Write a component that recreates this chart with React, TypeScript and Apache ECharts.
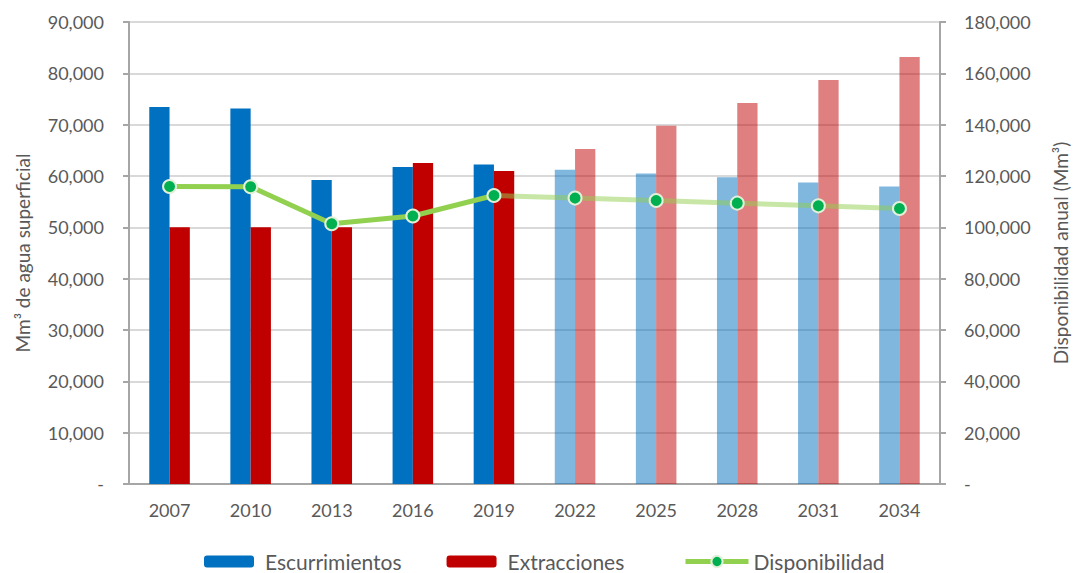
import React, { useEffect, useRef } from "react";
import * as echarts from "echarts";

const years = ["2007", "2010", "2013", "2016", "2019", "2022", "2025", "2028", "2031", "2034"];
const escurrimientos = [73430, 73160, 59200, 61730, 62240, 61210, 60490, 59780, 58740, 57960];
const extracciones = [50000, 50000, 50000, 62510, 60950, 65240, 69790, 74210, 78690, 83180];
const disponibilidad = [115900, 115800, 101400, 104400, 112400, 111400, 110450, 109430, 108380, 107330];
const firstProjectedYear = "2022";
const leftTicks = { min: 0, max: 90000, interval: 10000 };
const rightTicks = { min: 0, max: 180000, interval: 20000 };

const FONT = "Lato";
const TEXT = "#595959";

export default function App() {
  const ref = useRef<HTMLDivElement>(null);
  useEffect(() => {
    if (!ref.current) return;
    const chart = echarts.init(ref.current, null, { renderer: "svg" });
    const projIdx = years.indexOf(firstProjectedYear);
    const fmt = (v: number) => (v === 0 ? "-" : v.toLocaleString("en-US"));
    const barData = (arr: number[]) =>
      arr.map((v, i) => (i >= projIdx ? { value: v, itemStyle: { opacity: 0.5 } } : v));
    const histLine = disponibilidad.map((v, i) => (i < projIdx ? v : "-"));
    const projLine = disponibilidad.map((v, i) =>
      i < projIdx - 1 ? "-" : i === projIdx - 1 ? { value: v, symbol: "none" } : v
    );
    const lineCommon = {
      type: "line",
      name: "Disponibilidad",
      yAxisIndex: 1,
      symbol: "circle",
      symbolSize: 13,
      z: 5,
      itemStyle: { color: "#00B050", borderColor: "#E2F0D9", borderWidth: 2 },
    };
    const legendText = { fontFamily: FONT, fontSize: 21, color: TEXT };
    chart.setOption({
      animation: false,
      textStyle: { fontFamily: FONT },
      grid: { left: 129, right: 132, top: 22, bottom: 89, containLabel: false },
      legend: [
        {
          top: 551,
          left: 204,
          padding: 0,
          itemWidth: 50,
          itemHeight: 12,
          itemGap: 45,
          data: ["Escurrimientos", "Extracciones"],
          textStyle: { ...legendText, padding: [0, 0, 0, 6] },
        },
        {
          top: 551,
          left: 683,
          padding: 0,
          itemWidth: 63,
          itemHeight: 14,
          data: ["Disponibilidad"],
          lineStyle: { width: 5, color: "#92D050" },
          itemStyle: { color: "#00B050", borderColor: "#E2F0D9", borderWidth: 2 },
          textStyle: legendText,
        },
      ],
      xAxis: {
        type: "category",
        data: years,
        axisLine: { lineStyle: { color: "#A6A6A6", width: 2 } },
        axisTick: { alignWithLabel: true, length: 5, lineStyle: { color: "#A6A6A6", width: 2 } },
        axisLabel: { fontFamily: FONT, fontSize: 18, color: TEXT, margin: 17 },
      },
      yAxis: [
        {
          type: "value",
          ...leftTicks,
          name: "Mm³ de agua superficial",
          nameLocation: "middle",
          nameGap: 97,
          nameTextStyle: { fontFamily: FONT, fontSize: 19, color: TEXT },
          axisLine: { show: true, lineStyle: { color: "#A6A6A6", width: 2 } },
          axisTick: { show: true, length: 6, lineStyle: { color: "#A6A6A6", width: 2 } },
          axisLabel: { fontFamily: FONT, fontSize: 18, color: TEXT, margin: 25, formatter: fmt },
          splitLine: { lineStyle: { color: "#D9D9D9", width: 2 } },
        },
        {
          type: "value",
          ...rightTicks,
          position: "right",
          name: "Disponibilidad anual (Mm³)",
          nameLocation: "middle",
          nameGap: 111,
          nameTextStyle: { fontFamily: FONT, fontSize: 19, color: TEXT },
          axisLine: { show: true, lineStyle: { color: "#A6A6A6", width: 2 } },
          axisTick: { show: true, length: 6, lineStyle: { color: "#A6A6A6", width: 2 } },
          axisLabel: { fontFamily: FONT, fontSize: 18, color: TEXT, margin: 24, formatter: fmt },
          splitLine: { show: false },
        },
      ],
      series: [
        {
          type: "bar",
          name: "Escurrimientos",
          data: barData(escurrimientos),
          barWidth: "25%",
          barGap: "0%",
          itemStyle: { color: "#0070C0" },
        },
        {
          type: "bar",
          name: "Extracciones",
          data: barData(extracciones),
          barWidth: "25%",
          barGap: "0%",
          itemStyle: { color: "#C00000" },
        },
        {
          ...lineCommon,
          data: histLine,
          lineStyle: { color: "#92D050", width: 5 },
        },
        {
          ...lineCommon,
          data: projLine,
          lineStyle: { color: "#92D050", width: 5, opacity: 0.5 },
        },
      ],
    });
    return () => chart.dispose();
  }, []);
  return (
    <div
      ref={ref}
      style={{ position: "fixed", left: 0, top: 0, width: 1078, height: 573, background: "#fff" }}
    />
  );
}
